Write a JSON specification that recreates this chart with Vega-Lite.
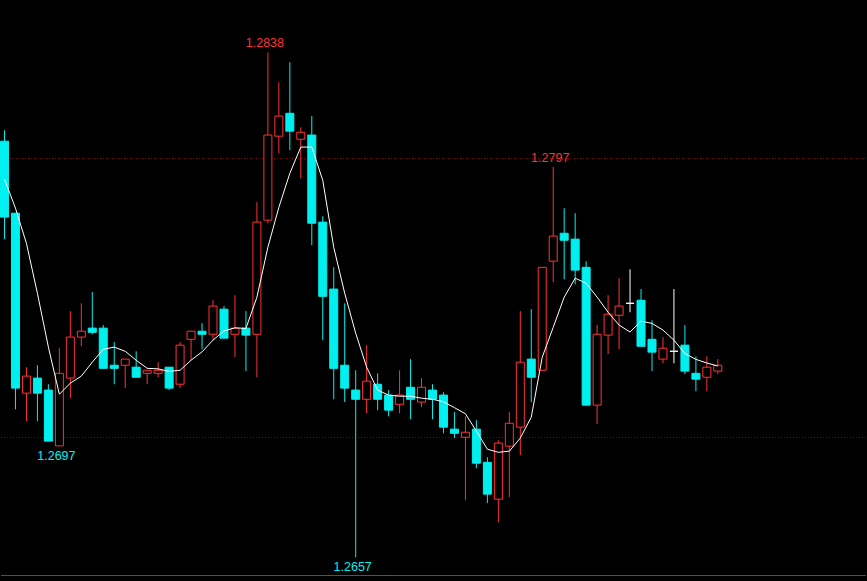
{
  "$schema": "https://vega.github.io/schema/vega-lite/v6.json",
  "width": 867,
  "height": 581,
  "padding": 0,
  "autosize": {"type": "fit", "contains": "padding"},
  "background": "#000000",
  "config": {"view": {"stroke": null}},
  "datasets": {
    "candles": [
      {"i":0,"o":1.28062,"h":1.28101,"l":1.27711,"c":1.27790,"ma":1.27926},
      {"i":1,"o":1.27804,"h":1.27804,"l":1.27101,"c":1.27177,"ma":1.27822},
      {"i":2,"o":1.27159,"h":1.27252,"l":1.27058,"c":1.27220,"ma":1.27696},
      {"i":3,"o":1.27213,"h":1.27259,"l":1.27058,"c":1.27159,"ma":1.27517},
      {"i":4,"o":1.27170,"h":1.27191,"l":1.26987,"c":1.26987,"ma":1.27324},
      {"i":5,"o":1.26970,"h":1.27320,"l":1.26970,"c":1.27230,"ma":1.27155},
      {"i":6,"o":1.27213,"h":1.27453,"l":1.27141,"c":1.27360,"ma":1.27195},
      {"i":7,"o":1.27360,"h":1.27481,"l":1.27327,"c":1.27381,"ma":1.27220},
      {"i":8,"o":1.27392,"h":1.27521,"l":1.27370,"c":1.27377,"ma":1.27270},
      {"i":9,"o":1.27392,"h":1.27403,"l":1.27248,"c":1.27248,"ma":1.27316},
      {"i":10,"o":1.27259,"h":1.27342,"l":1.27191,"c":1.27248,"ma":1.27324},
      {"i":11,"o":1.27259,"h":1.27281,"l":1.27177,"c":1.27281,"ma":1.27309},
      {"i":12,"o":1.27252,"h":1.27309,"l":1.27216,"c":1.27216,"ma":1.27277},
      {"i":13,"o":1.27230,"h":1.27241,"l":1.27191,"c":1.27241,"ma":1.27248},
      {"i":14,"o":1.27230,"h":1.27270,"l":1.27216,"c":1.27241,"ma":1.27246},
      {"i":15,"o":1.27252,"h":1.27252,"l":1.27170,"c":1.27177,"ma":1.27237},
      {"i":16,"o":1.27191,"h":1.27342,"l":1.27177,"c":1.27331,"ma":1.27241},
      {"i":17,"o":1.27352,"h":1.27381,"l":1.27277,"c":1.27381,"ma":1.27277},
      {"i":18,"o":1.27381,"h":1.27410,"l":1.27316,"c":1.27370,"ma":1.27307},
      {"i":19,"o":1.27370,"h":1.27492,"l":1.27349,"c":1.27471,"ma":1.27349},
      {"i":20,"o":1.27460,"h":1.27471,"l":1.27356,"c":1.27356,"ma":1.27382},
      {"i":21,"o":1.27370,"h":1.27510,"l":1.27288,"c":1.27392,"ma":1.27393},
      {"i":22,"o":1.27392,"h":1.27453,"l":1.27238,"c":1.27367,"ma":1.27391},
      {"i":23,"o":1.27370,"h":1.27843,"l":1.27216,"c":1.27772,"ma":1.27503},
      {"i":24,"o":1.27779,"h":1.28380,"l":1.27768,"c":1.28084,"ma":1.27682},
      {"i":25,"o":1.28080,"h":1.28273,"l":1.28019,"c":1.28152,"ma":1.27825},
      {"i":26,"o":1.28162,"h":1.28345,"l":1.28030,"c":1.28098,"ma":1.27947},
      {"i":27,"o":1.28069,"h":1.28112,"l":1.27929,"c":1.28094,"ma":1.28041},
      {"i":28,"o":1.28084,"h":1.28152,"l":1.27689,"c":1.27768,"ma":1.28041},
      {"i":29,"o":1.27772,"h":1.27793,"l":1.27349,"c":1.27506,"ma":1.27922},
      {"i":30,"o":1.27532,"h":1.27610,"l":1.27137,"c":1.27248,"ma":1.27682},
      {"i":31,"o":1.27259,"h":1.27481,"l":1.27127,"c":1.27177,"ma":1.27517},
      {"i":32,"o":1.27170,"h":1.27241,"l":1.26570,"c":1.27137,"ma":1.27374},
      {"i":33,"o":1.27137,"h":1.27331,"l":1.27087,"c":1.27202,"ma":1.27252},
      {"i":34,"o":1.27191,"h":1.27230,"l":1.27098,"c":1.27137,"ma":1.27170},
      {"i":35,"o":1.27152,"h":1.27170,"l":1.27076,"c":1.27098,"ma":1.27152},
      {"i":36,"o":1.27119,"h":1.27241,"l":1.27087,"c":1.27152,"ma":1.27148},
      {"i":37,"o":1.27180,"h":1.27281,"l":1.27066,"c":1.27137,"ma":1.27148},
      {"i":38,"o":1.27127,"h":1.27213,"l":1.27109,"c":1.27180,"ma":1.27141},
      {"i":39,"o":1.27170,"h":1.27191,"l":1.27066,"c":1.27137,"ma":1.27137},
      {"i":40,"o":1.27152,"h":1.27162,"l":1.27015,"c":1.27037,"ma":1.27128},
      {"i":41,"o":1.27030,"h":1.27091,"l":1.26998,"c":1.27015,"ma":1.27107},
      {"i":42,"o":1.27001,"h":1.27076,"l":1.26775,"c":1.27019,"ma":1.27085},
      {"i":43,"o":1.27030,"h":1.27062,"l":1.26890,"c":1.26908,"ma":1.27023},
      {"i":44,"o":1.26911,"h":1.26929,"l":1.26765,"c":1.26797,"ma":1.26958},
      {"i":45,"o":1.26779,"h":1.26990,"l":1.26696,"c":1.26980,"ma":1.26947},
      {"i":46,"o":1.26969,"h":1.27091,"l":1.26786,"c":1.27051,"ma":1.26951},
      {"i":47,"o":1.27037,"h":1.27453,"l":1.26937,"c":1.27270,"ma":1.26998},
      {"i":48,"o":1.27281,"h":1.27460,"l":1.27127,"c":1.27216,"ma":1.27073},
      {"i":49,"o":1.27241,"h":1.27610,"l":1.27241,"c":1.27610,"ma":1.27288},
      {"i":50,"o":1.27632,"h":1.27970,"l":1.27557,"c":1.27722,"ma":1.27395},
      {"i":51,"o":1.27732,"h":1.27822,"l":1.27567,"c":1.27707,"ma":1.27503},
      {"i":52,"o":1.27711,"h":1.27804,"l":1.27549,"c":1.27600,"ma":1.27571},
      {"i":53,"o":1.27610,"h":1.27632,"l":1.27116,"c":1.27116,"ma":1.27553},
      {"i":54,"o":1.27116,"h":1.27403,"l":1.27048,"c":1.27370,"ma":1.27503},
      {"i":55,"o":1.27367,"h":1.27510,"l":1.27299,"c":1.27442,"ma":1.27449},
      {"i":56,"o":1.27438,"h":1.27571,"l":1.27316,"c":1.27471,"ma":1.27403},
      {"i":57,"o":1.27481,"h":1.27603,"l":1.27449,"c":1.27481,"ma":1.27378},
      {"i":58,"o":1.27492,"h":1.27532,"l":1.27327,"c":1.27327,"ma":1.27417},
      {"i":59,"o":1.27352,"h":1.27420,"l":1.27238,"c":1.27306,"ma":1.27409},
      {"i":60,"o":1.27281,"h":1.27360,"l":1.27266,"c":1.27320,"ma":1.27385},
      {"i":61,"o":1.27309,"h":1.27532,"l":1.27266,"c":1.27309,"ma":1.27349},
      {"i":62,"o":1.27331,"h":1.27403,"l":1.27227,"c":1.27238,"ma":1.27301},
      {"i":63,"o":1.27230,"h":1.27291,"l":1.27166,"c":1.27209,"ma":1.27280},
      {"i":64,"o":1.27216,"h":1.27291,"l":1.27166,"c":1.27252,"ma":1.27267},
      {"i":65,"o":1.27238,"h":1.27281,"l":1.27227,"c":1.27259,"ma":1.27256}
    ],
    "grid": [{"p": 1.28}, {"p": 1.27}],
    "labels": [
      {"i": 24, "p": 1.2838, "t": "1.2838", "k": "high"},
      {"i": 50, "p": 1.2797, "t": "1.2797", "k": "high"},
      {"i": 5, "p": 1.2697, "t": "1.2697", "k": "low"},
      {"i": 32, "p": 1.2657, "t": "1.2657", "k": "low"}
    ]
  },
  "encoding": {
    "x": {"field": "i", "type": "quantitative", "scale": {"domain": [-0.318182, 78.5], "nice": false, "zero": false, "padding": 0}, "axis": null},
    "y": {"type": "quantitative", "scale": {"domain": [1.264857, 1.285681], "nice": false, "zero": false, "padding": 0}, "axis": null}
  },
  "layer": [
    {
      "data": {"name": "grid"},
      "mark": {"type": "rule", "color": "#8c0000", "strokeDash": [1, 2], "strokeWidth": 1},
      "encoding": {"y": {"field": "p", "type": "quantitative"}, "x": null}
    },
    {
      "data": {"values": [{}]},
      "mark": {"type": "rule", "color": "#c81e1e", "strokeWidth": 1},
      "encoding": {"y": {"datum": 1.265054, "type": "quantitative"}, "x": null}
    },
    {
      "data": {"values": [{}]},
      "mark": {"type": "rule", "color": "#8a8a8a", "strokeWidth": 1},
      "encoding": {
        "x": {"datum": 59.5, "type": "quantitative"},
        "y": {"datum": 1.265375, "type": "quantitative"},
        "y2": {"datum": 1.265054}
      }
    },
    {
      "data": {"name": "candles"},
      "mark": {"type": "rule", "strokeWidth": 1},
      "encoding": {
        "y": {"field": "l", "type": "quantitative"},
        "y2": {"field": "h"},
        "color": {
          "condition": [
            {"test": "datum.c > datum.o", "value": "#ff3232"},
            {"test": "datum.c < datum.o", "value": "#00f0f0"}
          ],
          "value": "#ffffff"
        }
      }
    },
    {
      "data": {"name": "candles"},
      "mark": {"type": "bar", "size": 8, "strokeWidth": 1, "fillOpacity": 1},
      "encoding": {
        "y": {"field": "o", "type": "quantitative"},
        "y2": {"field": "c"},
        "fill": {
          "condition": [
            {"test": "datum.c > datum.o", "value": "#000000"},
            {"test": "datum.c < datum.o", "value": "#00f0f0"}
          ],
          "value": "#ffffff"
        },
        "stroke": {
          "condition": [
            {"test": "datum.c > datum.o", "value": "#ff3232"},
            {"test": "datum.c < datum.o", "value": "#00f0f0"}
          ],
          "value": "#ffffff"
        }
      }
    },
    {
      "data": {"name": "candles"},
      "mark": {"type": "line", "color": "#ffffff", "strokeWidth": 1, "interpolate": "linear"},
      "encoding": {"y": {"field": "ma", "type": "quantitative"}}
    },
    {
      "data": {"name": "labels"},
      "transform": [{"filter": "datum.k == 'high'"}],
      "mark": {"type": "text", "font": "Liberation Sans", "fontSize": 12.5, "color": "#ff3232", "align": "center", "baseline": "alphabetic", "dx": -3, "dy": -5},
      "encoding": {"y": {"field": "p", "type": "quantitative"}, "text": {"field": "t"}}
    },
    {
      "data": {"name": "labels"},
      "transform": [{"filter": "datum.k == 'low'"}],
      "mark": {"type": "text", "font": "Liberation Sans", "fontSize": 12.5, "color": "#00f0f0", "align": "center", "baseline": "alphabetic", "dx": -3, "dy": 14},
      "encoding": {"y": {"field": "p", "type": "quantitative"}, "text": {"field": "t"}}
    }
  ]
}
